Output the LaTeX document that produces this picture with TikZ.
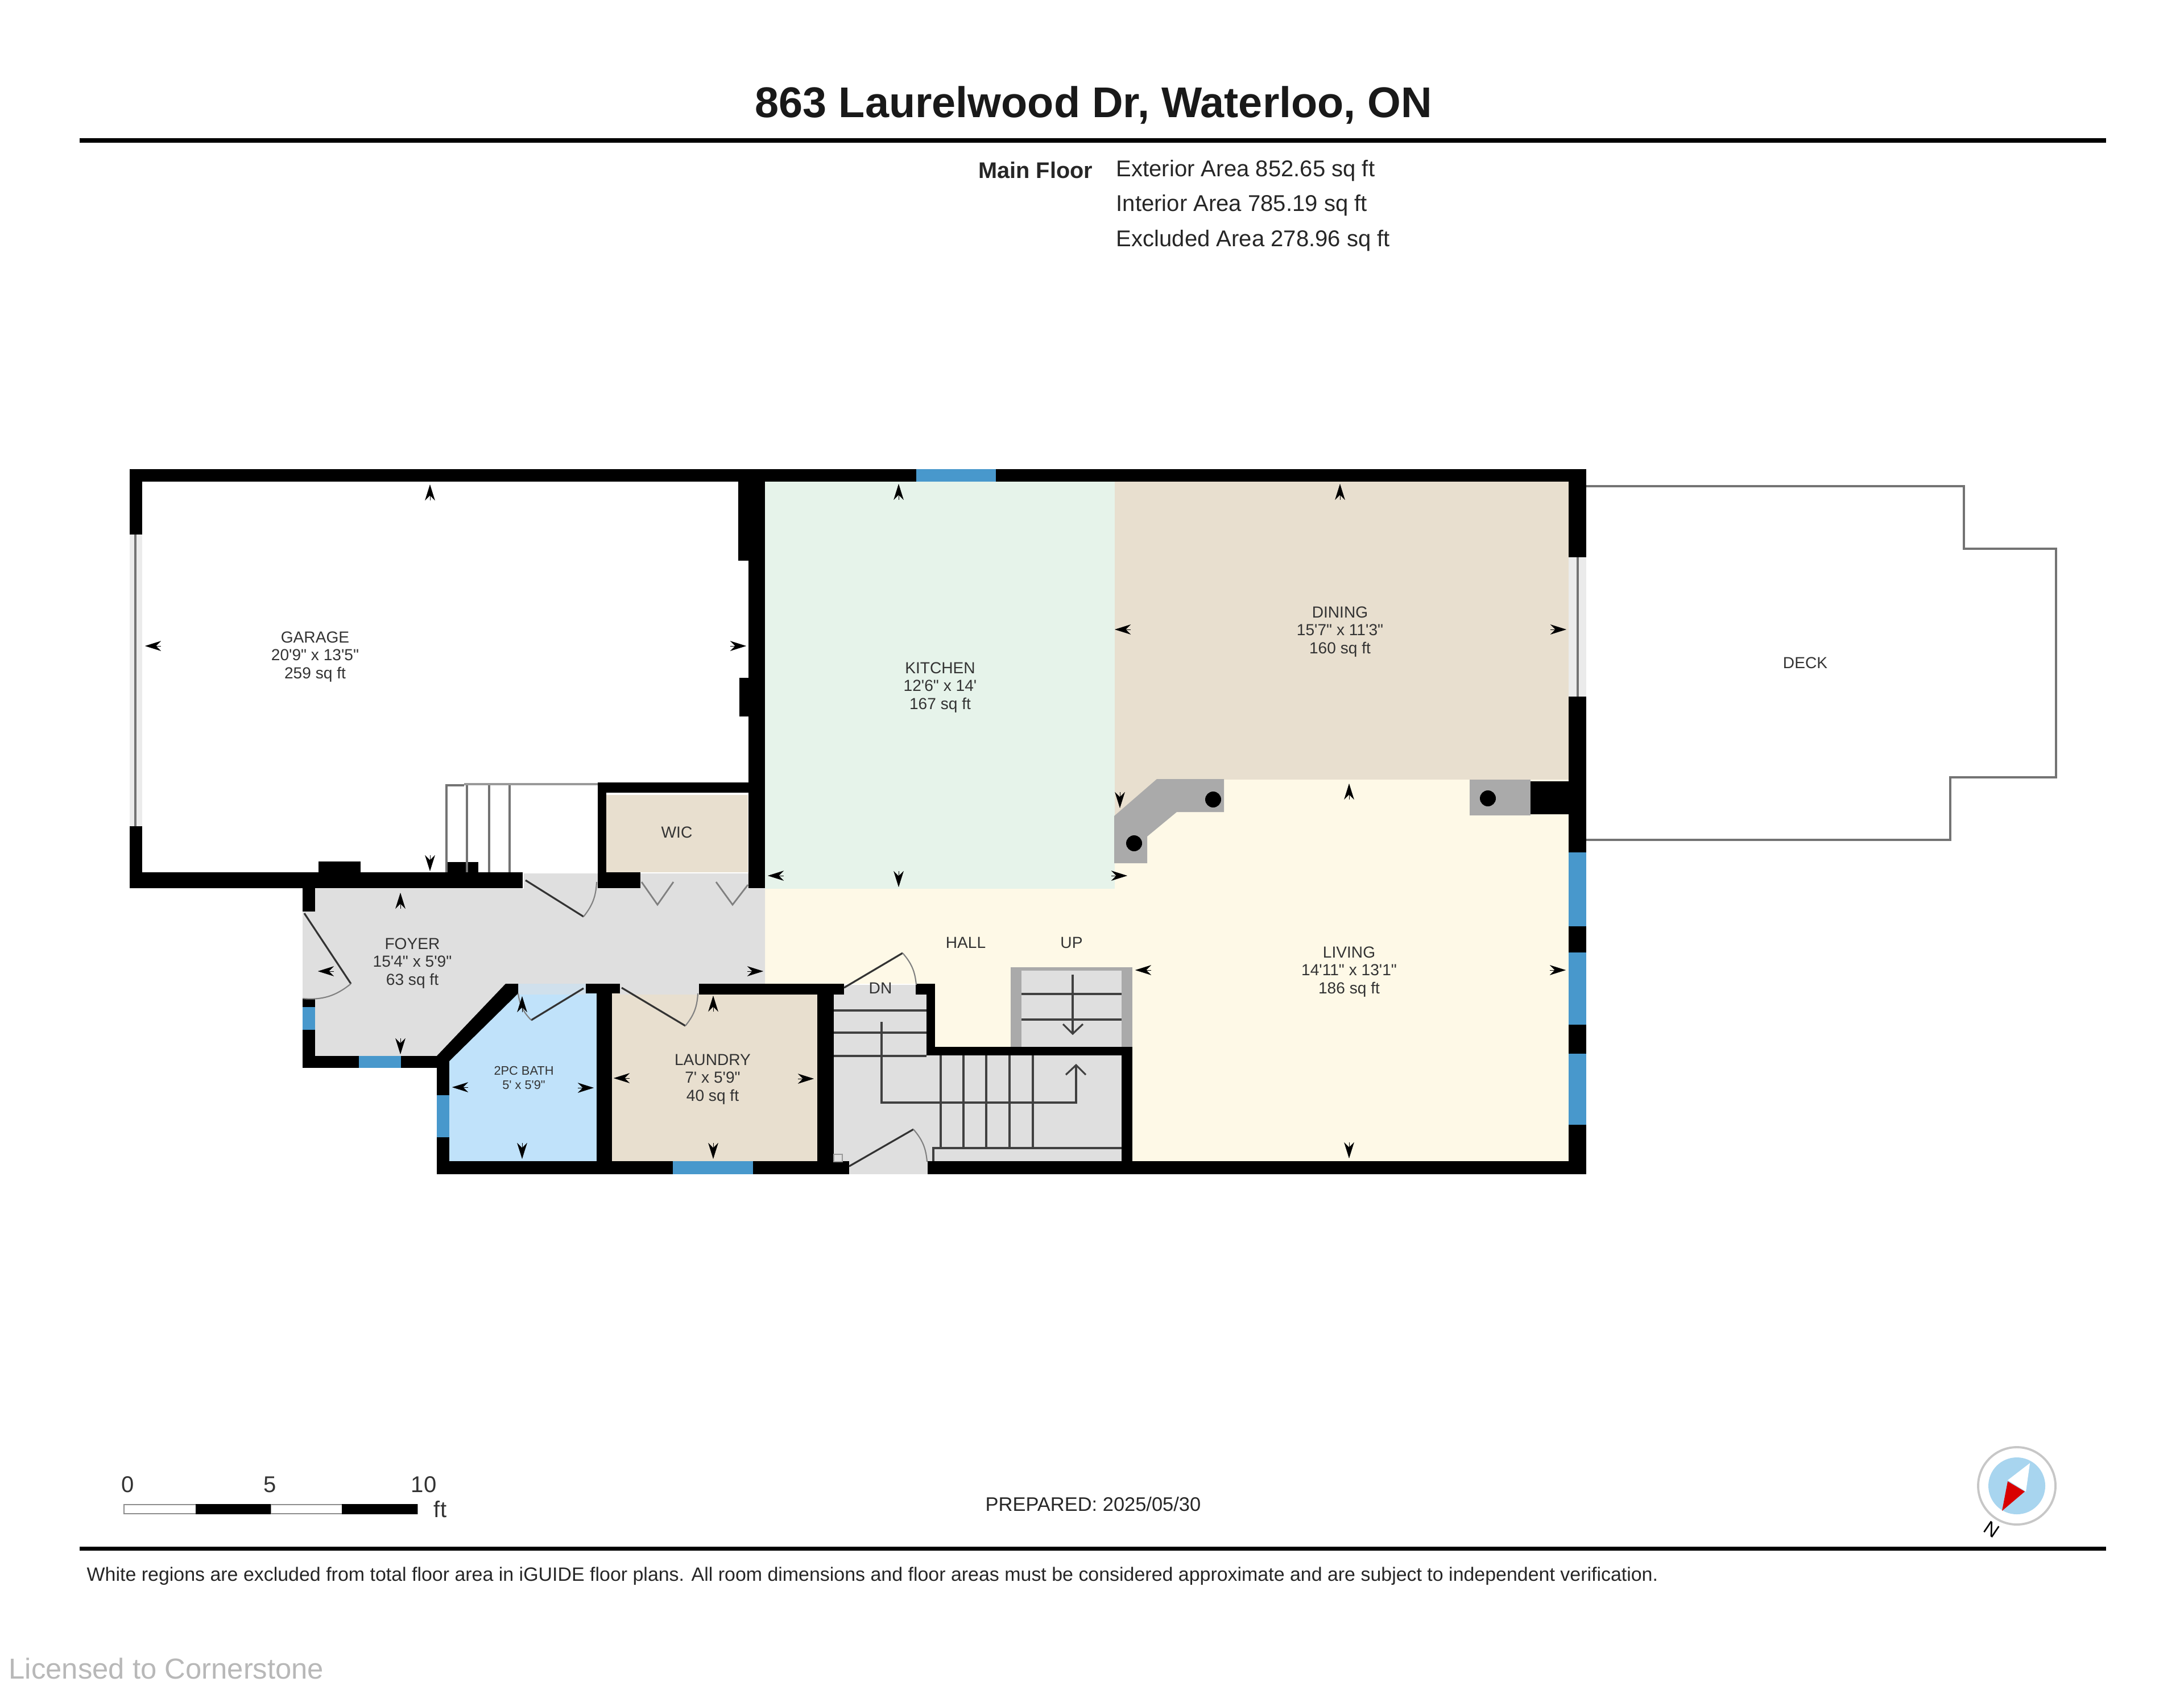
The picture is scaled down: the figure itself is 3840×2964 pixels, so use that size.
\documentclass[tikz,border=0pt]{standalone}
\usepackage{fontspec}
\usepackage{tikz}
\usetikzlibrary{arrows.meta}
\newfontfamily\planfont{Liberation Sans}
\definecolor{kitchengreen}{HTML}{E6F3EA}
\definecolor{tanfloor}{HTML}{E8DFCF}
\definecolor{creamfloor}{HTML}{FEF9E7}
\definecolor{greyfloor}{HTML}{DFDFDF}
\definecolor{bathblue}{HTML}{C0E2FA}
\definecolor{glass}{HTML}{4898CC}
\definecolor{counter}{HTML}{AAAAAA}
\definecolor{compassblue}{HTML}{A8D5EF}
\tikzset{
  wall/.style={fill=black},
  glazing/.style={fill=glass},
  thinline/.style={draw=black!55,line width=0.9pt},
  treadline/.style={draw=black!75,line width=0.9pt},
  doorleaf/.style={draw=black!80,line width=0.9pt},
  doorarc/.style={draw=black!50,line width=0.6pt},
  mk/.style={-{Stealth[length=8pt,width=5pt,inset=2.5pt]},line width=0.1pt,black},
  roomlabel/.style={font=\planfont\fontsize{8}{8.9}\selectfont,align=center,text=black!80,inner sep=0pt},
  smalllabel/.style={font=\planfont\fontsize{6.2}{7.1}\selectfont,align=center,text=black!80,inner sep=0pt},
  headtext/.style={font=\planfont\fontsize{11.4}{13}\selectfont,text=black!85,inner sep=0pt},
}
\begin{document}
\begin{tikzpicture}[x=0.01cm,y=-0.01cm]
  \useasboundingbox (0,0) rectangle (3840,2964);
  \fill[white] (0,0) rectangle (3840,2964);
  % header
  \node[font=\planfont\bfseries\fontsize{21.5}{25}\selectfont,text=black!90,inner sep=0pt](title)at(1923,185){863 Laurelwood Dr, Waterloo, ON};
  \draw[line width=2pt] (140,247) -- (3703,247);
  \node[headtext,anchor=east,font=\planfont\bfseries\fontsize{11.3}{13}\selectfont](mainfloor)at(1922,299){Main Floor};
  \node[headtext,anchor=west](exterior)at(1962,300){Exterior Area 852.65 sq ft};
  \node[headtext,anchor=west](interior)at(1962,361){Interior Area 785.19 sq ft};
  \node[headtext,anchor=west](excluded)at(1962,423){Excluded Area 278.96 sq ft};
  % floors
  \fill[kitchengreen] (1345,847) rectangle (1962,1563);
  \fill[tanfloor] (1960,847) -- (2758,847) -- (2758,1371) -- (2034,1371) -- (1960,1435) -- cycle;
  \fill[creamfloor] (1345,1563) -- (1960,1563) -- (1960,1435) -- (2034,1371) -- (2758,1371) -- (2758,2042) -- (1991,2042) -- (1991,1841) -- (1644,1841) -- (1644,1730) -- (1345,1730) -- cycle;
  \fill[greyfloor] (532,1603) rectangle (556,1756);
  \fill[greyfloor] (554,1563) -- (1345,1563) -- (1345,1745) -- (911,1745) -- (768,1857) -- (554,1857) -- cycle;
  \fill[greyfloor] (921,1536) rectangle (1051,1563);
  \fill[greyfloor] (1126,1536) rectangle (1316,1563);
  \fill[bathblue] (790,1861) -- (911,1747) -- (1049,1747) -- (1049,2042) -- (790,2042) -- cycle;
  \fill[tanfloor] (1076,1747) rectangle (1437,2042);
  \fill[tanfloor] (1066,1398) rectangle (1315,1534);
  \fill[greyfloor] (1090,1730) rectangle (1229,1749);
  \fill[greyfloor!50!bathblue] (911,1730) rectangle (1030,1749);
  \fill[greyfloor] (1466,1732) rectangle (1629,1856);
  \fill[greyfloor] (1466,1856) rectangle (1972,2043);
  \fill[greyfloor] (1493,2043) rectangle (1631,2065);
  \fill[greyfloor] (1796,1707) rectangle (1972,1841);
  \fill[counter] (1777,1701) rectangle (1796,1841);
  \fill[counter] (1972,1701) rectangle (1991,1841);
  \fill[counter] (1777,1701) rectangle (1991,1707);
  % counters
  \fill[counter] (2034,1370) -- (2152,1370) -- (2152,1428) -- (2069,1428) -- (2017,1471) -- (2017,1518) -- (1959,1518) -- (1959,1435) -- cycle;
  \fill[counter] (2584,1371) rectangle (2691,1434);
  \fill (2133,1406) circle (14);
  \fill (1994,1483) circle (14);
  \fill (2616,1404) circle (14);
  % walls
  \fill[wall] (228,825) rectangle (2789,847);
  \fill[wall] (228,825) rectangle (250,940);
  \fill[wall] (228,1453) rectangle (250,1559);
  \fill[wall] (228,1534) rectangle (919,1562);
  \fill[wall] (560,1515) rectangle (634,1540);
  \fill[wall] (785,1516) rectangle (841,1540);
  \fill[wall] (1298,825) rectangle (1345,986);
  \fill[wall] (1316,825) rectangle (1345,1562);
  \fill[wall] (1300,1192) rectangle (1320,1260);
  \fill[wall] (1051,1376) rectangle (1330,1394);
  \fill[wall] (1051,1376) rectangle (1066,1562);
  \fill[wall] (1051,1534) rectangle (1126,1562);
  \fill[wall] (532,1540) rectangle (554,1603);
  \fill[wall] (532,1756) rectangle (554,1878);
  \fill[wall] (532,1857) rectangle (790,1878);
  \fill[wall] (768,1857) -- (889,1730) -- (911,1730) -- (911,1747) -- (790,1866) -- cycle;
  \fill[wall] (768,1857) rectangle (790,2065);
  \fill[wall] (768,2042) rectangle (1493,2065);
  \fill[wall] (1049,1730) rectangle (1076,2050);
  \fill[wall] (1030,1730) rectangle (1090,1747);
  \fill[wall] (1229,1730) rectangle (1484,1749);
  \fill[wall] (1437,1730) rectangle (1466,2050);
  \fill[wall] (1610,1730) rectangle (1644,1749);
  \fill[wall] (1629,1730) rectangle (1644,1856);
  \fill[wall] (1629,1841) rectangle (1991,1856);
  \fill[wall] (1972,1841) rectangle (1991,2050);
  \fill[wall] (1631,2042) rectangle (2789,2065);
  \fill[wall] (2758,825) rectangle (2789,980);
  \fill[wall] (2758,1225) rectangle (2789,2065);
  \fill[wall] (2691,1374) rectangle (2760,1432);
  % windows
  \fill[glazing] (1611,825) rectangle (1751,847);
  \fill[glazing] (532,1771) rectangle (554,1811);
  \fill[glazing] (631,1857) rectangle (705,1878);
  \fill[glazing] (768,1926) rectangle (790,2000);
  \fill[glazing] (1183,2042) rectangle (1324,2065);
  \fill[glazing] (2758,1499) rectangle (2789,1629);
  \fill[glazing] (2758,1675) rectangle (2789,1802);
  \fill[glazing] (2758,1853) rectangle (2789,1978);
  % sliding panels
  \fill[black!8] (228,940) rectangle (250,1453);
  \draw[thinline] (238,940) -- (238,1453);
  \fill[black!8] (2758,980) rectangle (2789,1225);
  \draw[thinline] (2774,980) -- (2774,1225);
  % deck
  \draw[thinline,line join=miter] (2789,855) -- (3453,855) -- (3453,965) -- (3615,965) -- (3615,1367) -- (3429,1367) -- (3429,1477) -- (2789,1477);
  % garage steps
  \draw[draw=black!40,line width=1.4pt] (816,1379) -- (1051,1379);
  \draw[thinline] (785,1534) -- (785,1381) -- (816,1381);
  \draw[thinline] (821,1381) -- (821,1534);
  \draw[thinline] (860,1381) -- (860,1534);
  \draw[thinline] (896,1381) -- (896,1534);
  % stairs
  \draw[treadline] (1466,1777) -- (1629,1777);
  \draw[treadline] (1466,1816) -- (1629,1816);
  \draw[treadline] (1466,1857) -- (1629,1857);
  \draw[treadline] (1654,1856) -- (1654,2019);
  \draw[treadline] (1694,1856) -- (1694,2019);
  \draw[treadline] (1734,1856) -- (1734,2019);
  \draw[treadline] (1775,1856) -- (1775,2019);
  \draw[treadline] (1816,1856) -- (1816,2019);
  \draw[treadline] (1641,2042) -- (1641,2019) -- (1972,2019);
  \draw[treadline] (1550,1797) -- (1550,1939) -- (1892,1939) -- (1892,1873);
  \draw[treadline] (1874,1890) -- (1892,1873) -- (1909,1890);
  \draw[treadline] (1796,1748) -- (1972,1748);
  \draw[treadline] (1796,1793) -- (1972,1793);
  \draw[treadline] (1886,1714) -- (1886,1818);
  \draw[treadline] (1869,1801) -- (1886,1818) -- (1904,1801);
  \draw[draw=black!40,line width=0.5pt] (1466,2030) rectangle (1481,2043);
  % doors
  \draw[doorleaf] (535,1606) -- (617,1730);
  \draw[doorarc] (617,1730) to[bend left=22] (532,1756);
  \draw[doorleaf] (924,1548) -- (1026,1612);
  \draw[doorarc] (1026,1612) to[bend right=18] (1049,1551);
  \draw[doorarc,line width=0.8pt] (1128,1551) -- (1156,1591) -- (1184,1551);
  \draw[doorarc,line width=0.8pt] (1259,1551) -- (1288,1591) -- (1315,1556);
  \draw[doorleaf] (1026,1738) -- (934,1794);
  \draw[doorarc] (934,1794) to[bend left=18] (911,1747);
  \draw[doorleaf] (1093,1737) -- (1205,1804);
  \draw[doorarc] (1205,1804) to[bend right=18] (1227,1747);
  \draw[doorleaf] (1484,1737) -- (1587,1676);
  \draw[doorarc] (1587,1676) to[bend left=18] (1611,1732);
  \draw[doorleaf] (1493,2051) -- (1606,1986);
  \draw[doorarc] (1606,1986) to[bend left=18] (1630,2043);
  % extent marks
  \draw[mk] (756,880) -- (756,852);
  \draw[mk] (756,1504) -- (756,1532);
  \draw[mk] (283,1136) -- (255,1136);
  \draw[mk] (1284,1136) -- (1312,1136);
  \draw[mk] (704,1598) -- (704,1570);
  \draw[mk] (704,1826) -- (704,1854);
  \draw[mk] (587,1708) -- (559,1708);
  \draw[mk] (1314,1708) -- (1342,1708);
  \draw[mk] (918,1780) -- (918,1752);
  \draw[mk] (918,2010) -- (918,2038);
  \draw[mk] (823,1912) -- (795,1912);
  \draw[mk] (1016,1913) -- (1044,1913);
  \draw[mk] (1254,1779) -- (1254,1751);
  \draw[mk] (1254,2010) -- (1254,2038);
  \draw[mk] (1107,1896) -- (1079,1896);
  \draw[mk] (1403,1897) -- (1431,1897);
  \draw[mk] (1580,879) -- (1580,851);
  \draw[mk] (1580,1532) -- (1580,1560);
  \draw[mk] (1378,1540) -- (1350,1540);
  \draw[mk] (1954,1540) -- (1982,1540);
  \draw[mk] (2356,879) -- (2356,851);
  \draw[mk] (1969,1393) -- (1969,1421);
  \draw[mk] (1988,1107) -- (1960,1107);
  \draw[mk] (2726,1107) -- (2754,1107);
  \draw[mk] (2372,1406) -- (2372,1378);
  \draw[mk] (2372,2009) -- (2372,2037);
  \draw[mk] (2024,1706) -- (1996,1706);
  \draw[mk] (2725,1706) -- (2753,1706);
  % room labels
  \node[roomlabel](garage)at(554,1155){GARAGE\\20'9" x 13'5"\\259 sq ft};
  \node[roomlabel](kitchen)at(1653,1209){KITCHEN\\12'6" x 14'\\167 sq ft};
  \node[roomlabel](dining)at(2356,1111){DINING\\15'7" x 11'3"\\160 sq ft};
  \node[roomlabel](foyer)at(725,1694){FOYER\\15'4" x 5'9"\\63 sq ft};
  \node[smalllabel](bath)at(921,1895){2PC BATH\\5' x 5'9"};
  \node[roomlabel](laundry)at(1253,1898){LAUNDRY\\7' x 5'9"\\40 sq ft};
  \node[roomlabel](wic)at(1190,1464){WIC};
  \node[roomlabel](living)at(2372,1709){LIVING\\14'11" x 13'1"\\186 sq ft};
  \node[roomlabel](hall)at(1698,1658){HALL};
  \node[roomlabel](up)at(1884,1658){UP};
  \node[roomlabel](dn)at(1548,1738){DN};
  \node[roomlabel](deck)at(3174,1166){DECK};
  % scale bar
  \draw[draw=black!45,line width=0.8pt,fill=white] (218,2646) rectangle (476,2662);
  \draw[draw=black!45,line width=0.8pt,fill=white] (476,2646) rectangle (734,2662);
  \fill (344,2645) rectangle (476,2663);
  \fill (601,2645) rectangle (734,2663);
  \node[headtext,text=black!80](zero)at(225,2611){0};
  \node[headtext,text=black!80](five)at(475,2611){5};
  \node[headtext,text=black!80](ten)at(745,2611){10};
  \node[headtext,text=black!80](ft)at(774,2654){ft};
  \node[headtext,font=\planfont\fontsize{9.8}{12}\selectfont](prepared)at(1922,2645){PREPARED: 2025/05/30};
  % compass
  \draw[draw=black!22,line width=1.1pt,fill=white] (3546,2613) circle (68);
  \fill[compassblue] (3546,2613) circle (50);
  \fill[white] (3569,2573) -- (3530,2603) -- (3562,2623) -- cycle;
  \fill[red!85!black] (3530,2605) -- (3560,2623) -- (3520,2657) -- cycle;
  \node[font=\planfont\fontsize{9.5}{11}\selectfont,rotate=-34,inner sep=0pt](north)at(3502,2690){N};
  % footer
  \draw[line width=2pt] (140,2723) -- (3703,2723);
  \node[font=\planfont\fontsize{9.65}{11}\selectfont,text=black!85,anchor=west,inner sep=0pt](note)at(152,2772){White regions are excluded from total floor area in iGUIDE floor plans. All room dimensions and floor areas must be considered approximate and are subject to independent verification.};
  \node[font=\planfont\fontsize{14.45}{17}\selectfont,text=black!28,anchor=west,inner sep=0pt](licence)at(15,2934){Licensed to Cornerstone};
\end{tikzpicture}
\end{document}
